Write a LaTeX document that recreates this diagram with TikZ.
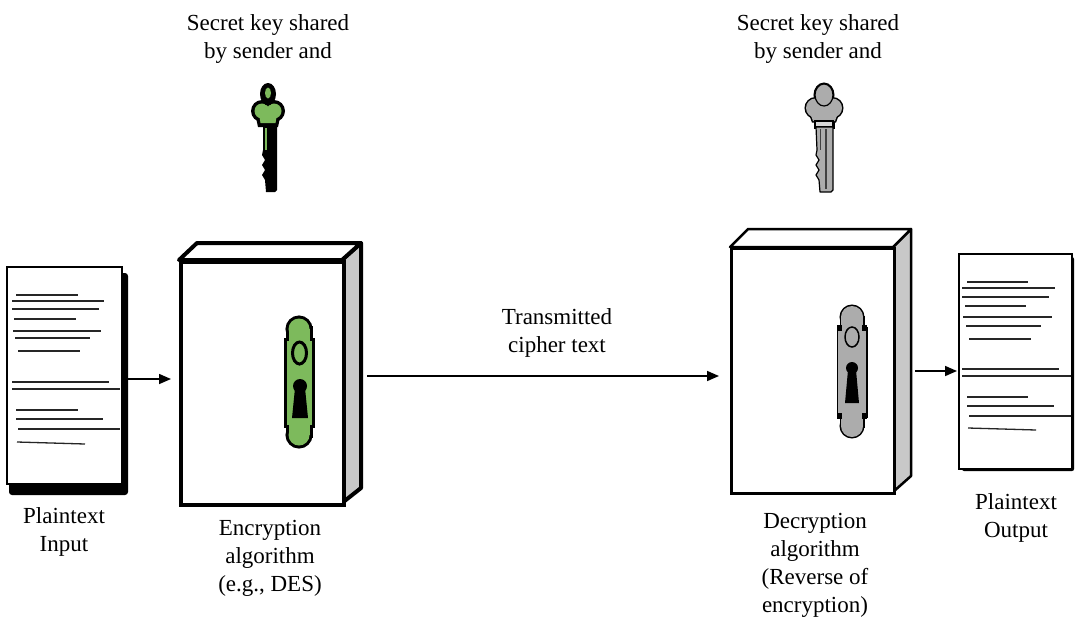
\documentclass[tikz,border=0pt]{standalone}
\usepackage{fontspec}
\setmainfont{Liberation Serif}
\usetikzlibrary{arrows.meta}
\definecolor{keygreen}{RGB}{125,186,92}
\definecolor{keygray}{RGB}{172,172,172}
\definecolor{sidegray}{RGB}{200,200,200}
\definecolor{collargray}{RGB}{215,215,215}
\begin{document}
\begin{tikzpicture}[x=1pt,y=-1pt,
  caption/.style={font=\fontsize{23}{28}\selectfont, align=center, inner sep=0pt},
  conn/.style={line width=1.6pt, -{Triangle[length=12pt,width=10pt]}},
  textline/.style={line width=1.3pt, black!85},
  page/.style={draw, line width=2pt, fill=white, inner sep=0pt, anchor=north west},
  front/.style={draw, fill=white, inner sep=0pt, anchor=north west, minimum width=163pt},
]
\useasboundingbox (0,0) rectangle (1075,619);

% ---------- captions ----------
\node[caption] (keyTextL) at (268,39) {Secret key shared\\by sender and};
\node[caption] (keyTextR) at (818,39) {Secret key shared\\by sender and};
\node[caption] (cipherText) at (557,333) {Transmitted\\cipher text};
\node[caption] (inText) at (64,532) {Plaintext\\Input};
\node[caption] (encText) at (270,558) {Encryption\\algorithm\\(e.g., DES)};
\node[caption] (decText) at (815,565) {Decryption\\algorithm\\(Reverse of\\encryption)};
\node[caption] (outText) at (1016,518) {Plaintext\\Output};

% ---------- input document ----------
\fill[black, rounded corners=3pt] (9,273) rectangle (128,495);
\node[page, minimum width=115pt, minimum height=217pt] (docL) at (6,266) {};
\draw[textline] (16,295) -- (78,295);
\draw[textline] (12,301) -- (104,301);
\draw[textline] (12,309) -- (99,309);
\draw[textline] (14,319) -- (76,319);
\draw[textline] (13,331) -- (101,331);
\draw[textline] (15,338) -- (90,338);
\draw[textline] (18,351) -- (80,351);
\draw[textline] (12,382) -- (109,382);
\draw[textline] (12,389) -- (120,389);
\draw[textline] (16,410) -- (78,410);
\draw[textline] (16,419) -- (103,419);
\draw[textline] (18,429) -- (120,429);
\draw[textline] (17,442) -- (85,444);

% ---------- output document ----------
\fill[black, rounded corners=2pt] (962,257) rectangle (1074,471);
\node[page, minimum width=113pt, minimum height=215pt] (docR) at (958,253) {};
\draw[textline] (967,282) -- (1028,282);
\draw[textline] (962,288) -- (1055,288);
\draw[textline] (962,297) -- (1049,297);
\draw[textline] (965,306) -- (1026,306);
\draw[textline] (963,317) -- (1052,317);
\draw[textline] (966,326) -- (1041,326);
\draw[textline] (969,339) -- (1031,339);
\draw[textline] (962,369) -- (1059,369);
\draw[textline] (962,376) -- (1071,376);
\draw[textline] (967,397) -- (1028,397);
\draw[textline] (967,406) -- (1054,406);
\draw[textline] (969,416) -- (1071,416);
\draw[textline] (968,428) -- (1036,430);

% ---------- encryption box ----------
\draw[line width=4pt, line join=round, fill=sidegray] (342,260) -- (361,243) -- (361,488) -- (342,503) -- cycle;
\draw[line width=4pt, line join=round, fill=white] (179,260) -- (197,243) -- (361,243) -- (342,260) -- cycle;
\node[front, line width=4pt, minimum height=243pt] (encBox) at (179,260) {};

% ---------- decryption box ----------
\draw[line width=2.5pt, line join=round, fill=sidegray] (893,247) -- (911,229) -- (911,476) -- (893,492) -- cycle;
\draw[line width=2.5pt, line join=round, fill=white] (730,247) -- (748,229) -- (911,229) -- (893,247) -- cycle;
\node[front, line width=2.5pt, minimum height=245pt] (decBox) at (730,247) {};

% ---------- green lock plate ----------
\begin{scope}[line width=6pt]
  \filldraw (299,329) circle (10.5);
  \filldraw (288.5,329) rectangle (309.5,341);
  \filldraw (286.5,341) rectangle (311.5,425);
  \filldraw (288.5,425) rectangle (309.5,435);
  \filldraw (299,435) circle (10.5);
\end{scope}
\begin{scope}[keygreen]
  \fill (299,329) circle (10.5);
  \fill (288.5,329) rectangle (309.5,341);
  \fill (286.5,341) rectangle (311.5,425);
  \fill (288.5,425) rectangle (309.5,435);
  \fill (299,435) circle (10.5);
\end{scope}
\draw[line width=3pt, fill=keygreen] (299.5,353) ellipse (7 and 11);
\fill (300,386) circle (7);
\fill (295,388) -- (305,388) -- (308,418) -- (292,418) -- cycle;

% ---------- gray lock plate ----------
\begin{scope}[line width=3pt]
  \filldraw (852,317) circle (11);
  \filldraw (841,317) rectangle (863,328);
  \filldraw (838,328) rectangle (866,416);
  \filldraw (841,416) rectangle (863,426);
  \filldraw (852,426) circle (11);
\end{scope}
\begin{scope}[keygray]
  \fill (852,317) circle (11);
  \fill (841,317) rectangle (863,328);
  \fill (838,328) rectangle (866,416);
  \fill (841,416) rectangle (863,426);
  \fill (852,426) circle (11);
\end{scope}
\fill (837,325) rectangle (842,331);
\fill (862,325) rectangle (867,331);
\fill (837,413) rectangle (842,419);
\fill (862,413) rectangle (867,419);
\draw[line width=1.5pt, fill=keygray] (852,337) ellipse (7 and 10);
\fill (852,368) circle (6);
\fill (848,370) -- (856,370) -- (859,403) -- (845,403) -- cycle;

% ---------- green key ----------
% bow: black body, green inset, black top lobe with green eye
\fill (268,94) ellipse (8 and 11);
\fill (262,111) circle (11);
\fill (274,111) circle (11);
\fill (255,113) -- (281,113) -- (278,127) -- (258,127) -- cycle;
\fill[keygreen] (262,111) circle (7.5);
\fill[keygreen] (274,111) circle (7.5);
\fill[keygreen] (258.5,111) -- (277.5,111) -- (275.5,123) -- (260.5,123) -- cycle;
\fill (268,96) ellipse (6.5 and 9.5);
\fill[keygreen] (268,93) ellipse (3 and 5.5);
% blade
\fill (263,126) -- (277,126) -- (277,190) -- (275,192) -- (266,192) -- (265,180)
  -- (262,175) -- (265,170) -- (262,165) -- (265,160) -- (262,155) -- (263,150) -- cycle;
\draw[keygreen, line width=1.2pt] (266,128) -- (266,150);

% ---------- gray key ----------
\begin{scope}[line width=3pt]
  \filldraw (824,95) ellipse (9 and 11);
  \filldraw (815.5,108) circle (9.5);
  \filldraw (832.5,108) circle (9.5);
  \filldraw (809,110) -- (839,110) -- (835,121) -- (813,121) -- cycle;
  \filldraw (815,119) rectangle (833,127);
\end{scope}
\begin{scope}[keygray]
  \fill (815.5,108) circle (9.5);
  \fill (832.5,108) circle (9.5);
  \fill (809,110) -- (839,110) -- (835,121) -- (813,121) -- cycle;
\end{scope}
\draw[line width=1.2pt, fill=keygray] (824,95) ellipse (9 and 11);
\draw[line width=1.2pt, fill=collargray] (815,121) rectangle (833,127);
\draw[line width=1.2pt, fill=keygray, line join=round] (816,127) -- (833,127) -- (833,190) -- (831,192)
  -- (820,192) -- (819,180) -- (816,175) -- (819,170) -- (816,165) -- (819,160) -- (816,155) -- (817,150) -- cycle;
\draw[line width=2pt, black!75] (826,129) -- (826,189);
\draw[line width=1pt, black!75] (820,129) -- (820,150);

% ---------- connectors ----------
\coordinate (inStart) at (128,379);
\coordinate (encIn) at (171,379);
\coordinate (encOut) at (367,376);
\coordinate (decIn) at (719,376);
\coordinate (decOut) at (915,371);
\coordinate (outIn) at (957,371);
\draw[conn] (inStart) -- (encIn);
\draw[conn] (encOut) -- (decIn);
\draw[conn] (decOut) -- (outIn);
\end{tikzpicture}
\end{document}
